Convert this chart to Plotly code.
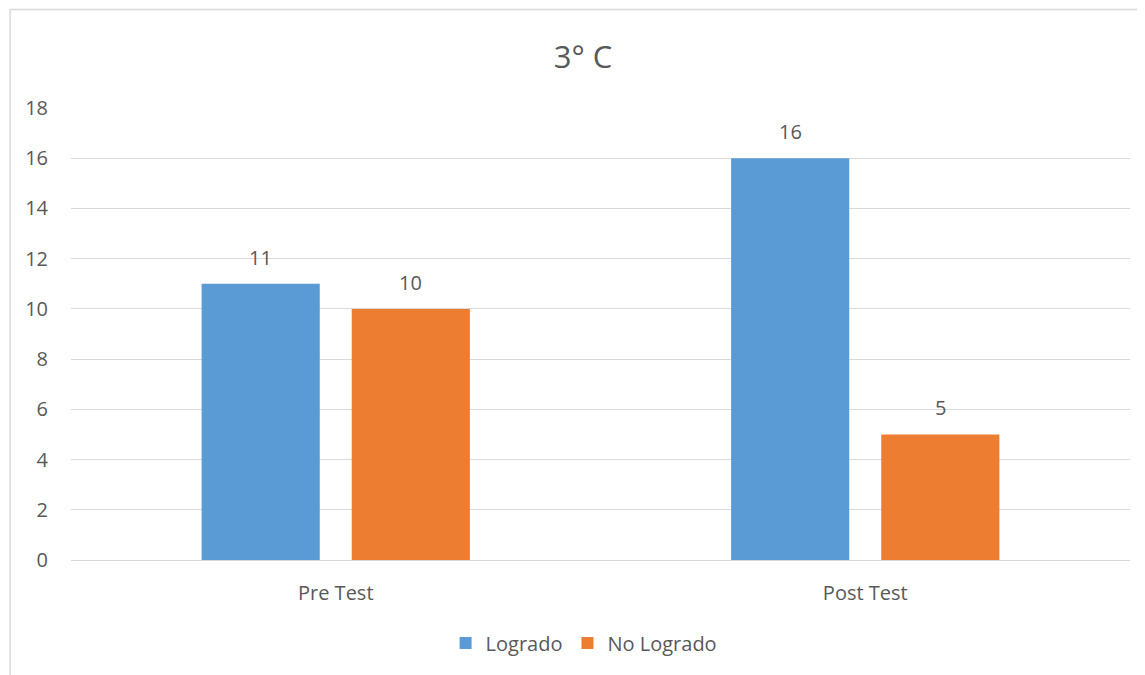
import plotly.graph_objects as go

categories = ["Pre Test", "Post Test"]
logrado = [11, 16]
no_logrado = [10, 5]
series_names = ["Logrado", "No Logrado"]
title_text = "3° C"
y_ticks = [0, 2, 4, 6, 8, 10, 12, 14, 16, 18]

BLUE = "#5B9BD5"
ORANGE = "#ED7D31"
TXT = "#595959"
GRID = "#D9D9D9"
FONT = "Open Sans"

W, H = 1137, 667  # page adds an 8px body margin

fig = go.Figure()
fig.add_trace(go.Bar(x=categories, y=logrado, name=series_names[0],
                     marker=dict(color=BLUE, line=dict(width=0))))
fig.add_trace(go.Bar(x=categories, y=no_logrado, name=series_names[1],
                     marker=dict(color=ORANGE, line=dict(width=0))))

annotations = []
for vals, shift in ((logrado, -75), (no_logrado, 75)):
    for c, v in zip(categories, vals):
        annotations.append(dict(x=c, y=v, xref="x", yref="y", text=str(v),
                                showarrow=False, xshift=shift, yshift=11,
                                yanchor="bottom",
                                font=dict(family=FONT, size=20, color=TXT)))

fig.update_layout(
    width=W, height=H,
    margin=dict(l=63, r=15, t=100, b=115),
    paper_bgcolor="white", plot_bgcolor="white",
    barmode="group", bargap=0.433, bargroupgap=0.213,
    font=dict(family=FONT, size=20, color=TXT),
    title=dict(text=title_text, xref="container", yref="container",
               x=(583 - 8) / W, y=1 - 49 / H, xanchor="center", yanchor="middle",
               font=dict(family=FONT, size=31, color=TXT)),
    showlegend=True,
    legend=dict(orientation="h", x=0.4845, xanchor="center",
                y=-0.1836, yanchor="middle",
                font=dict(family=FONT, size=20, color=TXT),
                traceorder="normal", itemwidth=30),
    annotations=annotations,
    shapes=[dict(type="rect", xref="paper", yref="paper",
                 x0=-0.0575, x1=1.2, y0=-0.5, y1=1 + (108 - 9.5) / 452,
                 line=dict(color=GRID, width=1.5), fillcolor="rgba(0,0,0,0)",
                 layer="below")],
)
fig.update_xaxes(showgrid=False, showline=False, zeroline=False,
                 ticks="", ticklabelstandoff=19,
                 tickfont=dict(family=FONT, size=20, color=TXT))
fig.update_yaxes(range=[0, 18], tickvals=y_ticks, showgrid=True,
                 gridcolor=GRID, gridwidth=1.3, zeroline=True,
                 zerolinecolor=GRID, zerolinewidth=1.3, showline=False,
                 ticks="", ticklabelstandoff=22,
                 tickfont=dict(family=FONT, size=20, color=TXT))

fig.write_html("out.html")
